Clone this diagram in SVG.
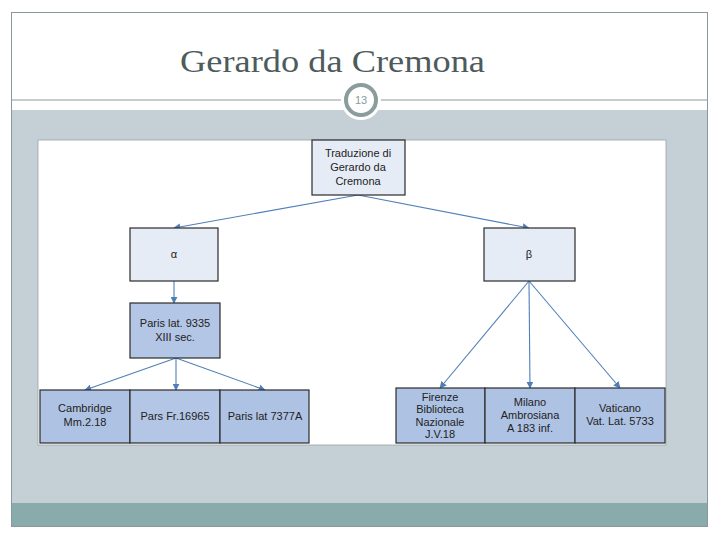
<svg xmlns="http://www.w3.org/2000/svg" width="720" height="540" viewBox="0 0 720 540">
<defs>
<style>
.n{stroke:#2b2b2b;stroke-width:1.2}
.l{fill:#e6ecf6}
.m{fill:#b4c6e6}
.d{fill:#aec2e4}
.t{font-family:"Liberation Sans",Arial,sans-serif;font-size:11px;fill:#222;text-anchor:middle}
.c{stroke:#4f7fb8;stroke-width:1.1;fill:none;marker-end:url(#a)}
</style>
<marker id="a" viewBox="0 0 10 10" refX="9" refY="5" markerWidth="7" markerHeight="7" orient="auto" markerUnits="userSpaceOnUse">
<path d="M0,0 L10,5 L0,10 z" fill="#4f7fb8"/>
</marker>
</defs>
<rect x="0" y="0" width="720" height="540" fill="#fff"/>
<rect x="11" y="110" width="697" height="393" fill="#c5d0d6"/>
<rect x="11" y="503" width="697" height="24" fill="#8aabab"/>
<rect x="11.5" y="12.5" width="696" height="514" fill="none" stroke="#8a9a9c" stroke-width="1"/>
<line x1="11" y1="100" x2="708" y2="100" stroke="#8a9a9c" stroke-width="1"/>
<text x="180" y="72" font-family="Liberation Serif,serif" font-size="31" fill="#4e5b5c" textLength="305" lengthAdjust="spacingAndGlyphs">Gerardo da Cremona</text>
<circle cx="361" cy="100" r="20" fill="#fff"/>
<circle cx="361" cy="100" r="15" fill="#fff" stroke="#8a9c9c" stroke-width="4"/>
<text x="361" y="104" font-family="Liberation Sans,sans-serif" font-size="11" fill="#8a9a9c" text-anchor="middle">13</text>
<rect x="38" y="140" width="628" height="305" fill="#fff" stroke="#9aa4a8" stroke-width="0.8"/>
<g id="connectors">
<line class="c" x1="358" y1="195" x2="174" y2="228"/>
<line class="c" x1="358" y1="195" x2="529" y2="228"/>
<line class="c" x1="174" y1="281" x2="174" y2="303"/>
<line class="c" x1="176" y1="358" x2="85" y2="390"/>
<line class="c" x1="176" y1="358" x2="176" y2="390"/>
<line class="c" x1="176" y1="358" x2="265" y2="390"/>
<line class="c" x1="529" y1="281" x2="440" y2="388"/>
<line class="c" x1="529" y1="281" x2="530" y2="388"/>
<line class="c" x1="529" y1="281" x2="620" y2="388"/>
</g>
<g id="traduzione"><rect class="n l" x="312" y="140" width="93" height="55"/>
<text class="t" x="358" y="157">Traduzione di</text><text class="t" x="358" y="171">Gerardo da</text><text class="t" x="358" y="185">Cremona</text></g>
<g id="alpha"><rect class="n l" x="130" y="228" width="88" height="53"/><text class="t" x="174" y="258">α</text></g>
<g id="beta"><rect class="n l" x="484" y="228" width="91" height="53"/><text class="t" x="529" y="258">β</text></g>
<g id="paris9335"><rect class="n m" x="130" y="303" width="90" height="55"/>
<text class="t" x="175" y="327">Paris lat. 9335</text><text class="t" x="175" y="341">XIII sec.</text></g>
<g id="cambridge"><rect class="n d" x="40" y="390" width="90" height="53"/>
<text class="t" x="85" y="412">Cambridge</text><text class="t" x="85" y="426">Mm.2.18</text></g>
<g id="pars"><rect class="n m" x="130" y="390" width="90" height="53"/>
<text class="t" x="175" y="420">Pars Fr.16965</text></g>
<g id="paris7377"><rect class="n d" x="220" y="390" width="89" height="53"/>
<text class="t" x="265" y="420">Paris lat  7377A</text></g>
<g id="firenze"><rect class="n d" x="396" y="388" width="89" height="55"/>
<text class="t" x="440" y="401">Firenze</text><text class="t" x="440" y="413">Biblioteca</text><text class="t" x="440" y="426">Nazionale</text><text class="t" x="440" y="438">J.V.18</text></g>
<g id="milano"><rect class="n d" x="485" y="388" width="90" height="55"/>
<text class="t" x="530" y="406">Milano</text><text class="t" x="530" y="419">Ambrosiana</text><text class="t" x="530" y="432">A 183 inf.</text></g>
<g id="vaticano"><rect class="n d" x="575" y="388" width="90" height="55"/>
<text class="t" x="620" y="412">Vaticano</text><text class="t" x="620" y="425">Vat. Lat. 5733</text></g>
</svg>
